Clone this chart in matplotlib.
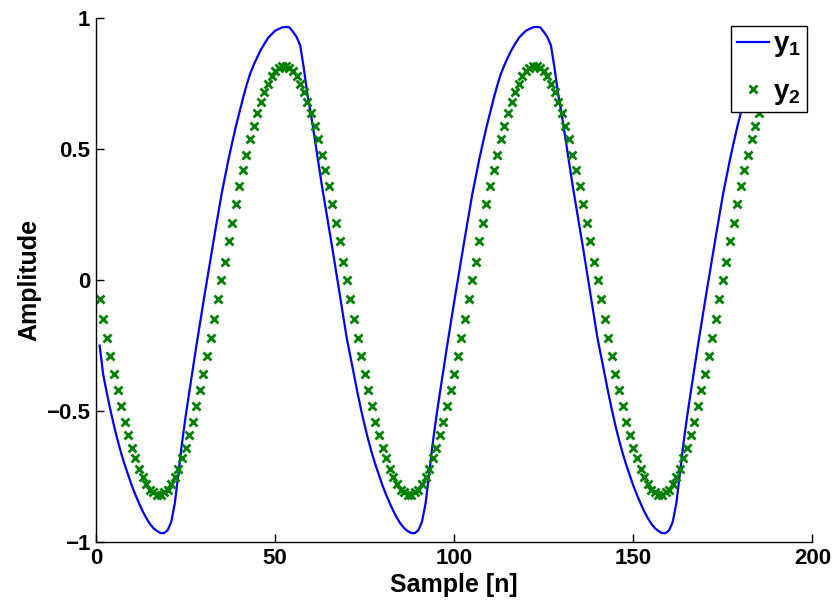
import matplotlib
matplotlib.use("Agg")
import matplotlib.pyplot as plt

# --------------------------
# Data (one value per sample n = 1..186)
# --------------------------
n = list(range(1, 187))

y1 = [
    -0.25, -0.36, -0.43, -0.495, -0.555, -0.61, -0.66, -0.705, -0.745, -0.785,
    -0.82, -0.852, -0.882, -0.908, -0.93, -0.947, -0.958, -0.966, -0.966, -0.955,
    -0.923, -0.852, -0.739, -0.622, -0.522, -0.43, -0.341, -0.252, -0.166, -0.081,
    0.002, 0.084, 0.166, 0.246, 0.326, 0.395, 0.463, 0.525, 0.585, 0.64,
    0.694, 0.744, 0.788, 0.822, 0.852, 0.88, 0.903, 0.925, 0.94, 0.953,
    0.96, 0.966, 0.968, 0.966, 0.949, 0.929, 0.897, 0.81, 0.711, 0.635,
    0.546, 0.456, 0.366, 0.284, 0.202, 0.12, 0.034, -0.053, -0.139, -0.222,
    -0.29, -0.36, -0.43, -0.495, -0.555, -0.61, -0.66, -0.705, -0.745, -0.785,
    -0.82, -0.852, -0.882, -0.908, -0.93, -0.947, -0.958, -0.966, -0.966, -0.955,
    -0.923, -0.852, -0.739, -0.622, -0.522, -0.43, -0.341, -0.252, -0.166, -0.081,
    0.002, 0.084, 0.166, 0.246, 0.326, 0.395, 0.463, 0.525, 0.585, 0.64,
    0.694, 0.744, 0.788, 0.822, 0.852, 0.88, 0.903, 0.925, 0.94, 0.953,
    0.96, 0.966, 0.968, 0.966, 0.949, 0.929, 0.897, 0.81, 0.711, 0.635,
    0.546, 0.456, 0.366, 0.284, 0.202, 0.12, 0.034, -0.053, -0.139, -0.222,
    -0.29, -0.36, -0.43, -0.495, -0.555, -0.61, -0.66, -0.705, -0.745, -0.785,
    -0.82, -0.852, -0.882, -0.908, -0.93, -0.947, -0.958, -0.966, -0.966, -0.955,
    -0.923, -0.852, -0.739, -0.622, -0.522, -0.43, -0.341, -0.252, -0.166, -0.081,
    0.002, 0.084, 0.166, 0.246, 0.326, 0.395, 0.463, 0.525, 0.585, 0.64,
    0.694, 0.744, 0.788, 0.822, 0.852, 0.88,
]

y2 = [
    -0.07, -0.15, -0.22, -0.29, -0.36, -0.42, -0.48, -0.54, -0.59, -0.64,
    -0.68, -0.72, -0.75, -0.78, -0.80, -0.81, -0.82, -0.82, -0.81, -0.80,
    -0.78, -0.75, -0.72, -0.68, -0.64, -0.59, -0.54, -0.48, -0.42, -0.36,
    -0.29, -0.22, -0.15, -0.07, 0.00, 0.07, 0.15, 0.22, 0.29, 0.36,
    0.42, 0.48, 0.54, 0.59, 0.64, 0.68, 0.72, 0.75, 0.78, 0.80,
    0.81, 0.82, 0.82, 0.81, 0.80, 0.78, 0.75, 0.72, 0.68, 0.64,
    0.59, 0.54, 0.48, 0.42, 0.36, 0.29, 0.22, 0.15, 0.07, 0.00,
    -0.07, -0.15, -0.22, -0.29, -0.36, -0.42, -0.48, -0.54, -0.59, -0.64,
    -0.68, -0.72, -0.75, -0.78, -0.80, -0.81, -0.82, -0.82, -0.81, -0.80,
    -0.78, -0.75, -0.72, -0.68, -0.64, -0.59, -0.54, -0.48, -0.42, -0.36,
    -0.29, -0.22, -0.15, -0.07, 0.00, 0.07, 0.15, 0.22, 0.29, 0.36,
    0.42, 0.48, 0.54, 0.59, 0.64, 0.68, 0.72, 0.75, 0.78, 0.80,
    0.81, 0.82, 0.82, 0.81, 0.80, 0.78, 0.75, 0.72, 0.68, 0.64,
    0.59, 0.54, 0.48, 0.42, 0.36, 0.29, 0.22, 0.15, 0.07, 0.00,
    -0.07, -0.15, -0.22, -0.29, -0.36, -0.42, -0.48, -0.54, -0.59, -0.64,
    -0.68, -0.72, -0.75, -0.78, -0.80, -0.81, -0.82, -0.82, -0.81, -0.80,
    -0.78, -0.75, -0.72, -0.68, -0.64, -0.59, -0.54, -0.48, -0.42, -0.36,
    -0.29, -0.22, -0.15, -0.07, 0.00, 0.07, 0.15, 0.22, 0.29, 0.36,
    0.42, 0.48, 0.54, 0.59, 0.64, 0.68,
]

x_ticks = [0, 50, 100, 150, 200]
y_ticks = [-1, -0.5, 0, 0.5, 1]
y_tick_labels = ["\u22121", "\u22120.5", "0", "0.5", "1"]

# --------------------------
# Style
# --------------------------
plt.rcParams["font.family"] = ["Liberation Sans", "DejaVu Sans"]
plt.rcParams["font.weight"] = "bold"
plt.rcParams["mathtext.fontset"] = "custom"
plt.rcParams["mathtext.rm"] = "Liberation Sans:bold"
plt.rcParams["mathtext.bf"] = "Liberation Sans:bold"
plt.rcParams["mathtext.it"] = "Liberation Sans:bold"

fig = plt.figure(figsize=(8.35, 6.0), dpi=100)
ax = fig.add_axes([0.115, 0.0967, 0.858, 0.8725])

ax.plot(n, y1, color=(0, 0, 1), linewidth=1.6, label=r"$\mathbf{y_1}$")
ax.plot(n, y2, linestyle="none", marker="x", color=(0, 0.5, 0),
        markersize=5.5, markeredgewidth=2.0, label=r"$\mathbf{y_2}$")

ax.set_xlim(0, 200)
ax.set_ylim(-1, 1)
ax.set_xticks(x_ticks)
ax.set_yticks(y_ticks)
ax.set_yticklabels(y_tick_labels)

ax.spines["top"].set_visible(False)
ax.spines["right"].set_visible(False)
ax.spines["left"].set_linewidth(1.0)
ax.spines["bottom"].set_linewidth(1.0)
ax.tick_params(direction="in", length=6, width=1.0, labelsize=16, pad=4)

ax.set_xlabel("Sample [n]", fontsize=18, fontweight="bold", labelpad=3)
ax.set_ylabel("Amplitude", fontsize=18, fontweight="bold", labelpad=4)

leg = ax.legend(loc="upper right", bbox_to_anchor=(0.992, 0.986),
                borderaxespad=0, fontsize=20, fancybox=False,
                framealpha=1, edgecolor="black", handlelength=1.15,
                handletextpad=0.15, borderpad=0.2, labelspacing=0.7,
                numpoints=1)
leg.get_frame().set_linewidth(1.0)

fig.savefig("out.png", dpi=100)
